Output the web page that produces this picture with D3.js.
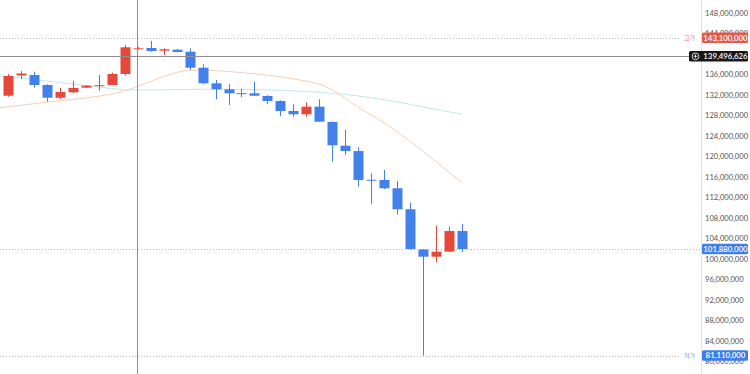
<!DOCTYPE html>
<html lang="ko">
  <head>
    <meta charset="UTF-8" />
    <title>Candle Chart</title>
    <style>
      body { margin: 0; background: #fff; }
      svg { display: block; font-family: Lato, "Noto Sans CJK KR", sans-serif; }
    </style>
  </head>
  <body>
    <div id="chart"></div>

    <script src="https://d3js.org/d3.v7.min.js"></script>

    <script>

    // prices in millions of won, one candle per index
    var opens  = [131.8, 135.75, 135.84, 133.89, 131.41, 132.47, 133.37, 133.82, 133.89, 136.04, 141.0, 141.11,
                  140.59, 140.78, 140.39, 137.27, 134.22, 133.05, 132.3, 132.27, 131.75, 130.77, 128.82, 128.18,
                  129.66, 126.67, 122.05, 121.0, 115.4, 115.36, 113.74, 109.64, 101.8, 100.39, 101.37, 105.4];
    var highs  = [136.0, 136.6, 136.49, 134.03, 133.37, 134.67, 133.9, 135.84, 136.29, 141.7, 141.3, 142.5,
                  141.05, 140.92, 141.05, 137.93, 134.87, 134.09, 133.1, 134.54, 131.9, 130.9, 130.13, 130.52,
                  131.1, 126.8, 125.11, 121.74, 116.66, 117.31, 115.16, 110.93, 101.89, 106.44, 106.24, 106.77];
    var lows   = [131.6, 135.06, 133.37, 130.63, 131.16, 132.27, 133.3, 132.78, 133.8, 135.7, 140.9, 140.39,
                  139.75, 140.27, 136.82, 134.03, 131.1, 129.99, 131.5, 131.75, 130.13, 127.84, 127.7, 127.7,
                  126.7, 118.93, 120.23, 114.05, 110.67, 113.6, 108.66, 101.8, 81.11, 99.3, 101.3, 101.25];
    var closes = [135.65, 136.14, 133.89, 131.41, 132.53, 133.31, 133.76, 133.85, 136.04, 141.25, 141.05, 140.53,
                  140.86, 140.33, 137.27, 134.22, 133.05, 132.27, 132.26, 131.8, 130.77, 128.82, 128.18, 129.66,
                  126.73, 122.13, 121.0, 115.36, 115.36, 113.74, 109.64, 101.88, 100.39, 101.37, 105.4, 101.88];

    // moving averages, first value belongs to the candle just off the left edge (index -1)
    var maShort = [129.40, 129.64, 129.93, 130.24, 130.54, 130.81, 131.06, 131.36, 131.71, 132.14, 132.72, 133.60,
                   134.58, 135.55, 136.33, 136.76, 136.82, 136.70, 136.53, 136.31, 136.08, 135.80, 135.49, 135.10,
                   134.63, 134.05, 132.92, 131.26, 129.50, 128.04, 126.48, 124.72, 122.87, 120.92, 118.87, 116.82, 114.83];
    var maLong  = [135.75, 135.55, 135.26, 134.97, 134.67, 134.38, 134.09, 133.80, 133.50, 133.21, 132.96, 132.92,
                   132.92, 132.96, 133.00, 133.03, 133.05, 133.05, 133.05, 133.03, 133.00, 132.94, 132.86, 132.76,
                   132.62, 132.47, 132.27, 132.04, 131.75, 131.40, 131.00, 130.58, 130.11, 129.62, 129.13, 128.66, 128.23];

    // 140,000,000 sits fully under the crosshair badge, so it is not listed
    var yTicks = [80, 84, 88, 92, 96, 100, 104, 108, 112, 116, 120, 124, 128, 132, 136, 144, 148];

    var highPrice = 143100000;
    var lowPrice = 81110000;
    var lastPrice = 101880000;
    var crossPrice = 139496626;
    var crossIndex = 10;

    var w = 750;
    var h = 374;
    var axisX = 701;

    var red = "#e6493b";
    var blue = "#4280ea";

    var fmt = d3.format(",");

    var svg = d3.select("#chart")
                .append("svg")
                .attr("width", w)
                .attr("height", h);

    var xScale = d3.scaleLinear()
                   .domain([0, opens.length - 1])
                   .range([7.7, 462.3]);

    var yScale = d3.scaleLinear()
                   .domain([80, 148])
                   .range([361.2, 12.7]);

    svg.append("clipPath")
       .attr("id", "plot")
       .append("rect")
       .attr("width", axisX)
       .attr("height", h);

    var plot = svg.append("g").attr("clip-path", "url(#plot)");

    // dotted reference lines for high / low / last price
    function dotted(price, x2) {
      plot.append("line")
          .attr("x1", 0).attr("x2", x2)
          .attr("y1", Math.round(yScale(price / 1e6)) + 0.5)
          .attr("y2", Math.round(yScale(price / 1e6)) + 0.5)
          .attr("stroke", "#bbb")
          .attr("stroke-dasharray", "1,2");
    }
    dotted(highPrice, 680);
    dotted(lowPrice, 680);
    dotted(lastPrice, axisX);

    // moving averages
    var line = d3.line()
                 .x(function(d, i) { return xScale(i - 1); })
                 .y(function(d) { return yScale(d); })
                 .curve(d3.curveMonotoneX);

    plot.append("path")
        .attr("d", line(maLong))
        .attr("fill", "none")
        .attr("stroke", "#c3e8e7")
        .attr("stroke-width", 1);

    plot.append("path")
        .attr("d", line(maShort))
        .attr("fill", "none")
        .attr("stroke", "#f5d0b4")
        .attr("stroke-width", 1);

    // candles
    var idx = d3.range(opens.length);

    var candles = plot.selectAll(".candle")
                      .data(idx)
                      .enter()
                      .append("g")
                      .attr("class", "candle");

    function color(i) { return closes[i] >= opens[i] ? red : blue; }

    candles.append("line")
           .attr("x1", function(i) { return Math.round(xScale(i)) + 0.5; })
           .attr("x2", function(i) { return Math.round(xScale(i)) + 0.5; })
           .attr("y1", function(i) { return yScale(highs[i]); })
           .attr("y2", function(i) { return yScale(lows[i]); })
           .attr("stroke", color);

    candles.append("rect")
           .attr("x", function(i) { return Math.round(xScale(i)) - 4.5; })
           .attr("width", 10)
           .attr("y", function(i) { return yScale(Math.max(opens[i], closes[i])); })
           .attr("height", function(i) {
             return Math.max(1, yScale(Math.min(opens[i], closes[i])) - yScale(Math.max(opens[i], closes[i])));
           })
           .attr("fill", color);

    // crosshair
    svg.append("line")
       .attr("x1", Math.round(xScale(crossIndex)) - 0.5)
       .attr("x2", Math.round(xScale(crossIndex)) - 0.5)
       .attr("y1", 0).attr("y2", h)
       .attr("stroke", "#8f8f8f");

    svg.append("line")
       .attr("x1", 0).attr("x2", 690)
       .attr("y1", Math.round(yScale(crossPrice / 1e6)) + 0.5)
       .attr("y2", Math.round(yScale(crossPrice / 1e6)) + 0.5)
       .attr("stroke", "#8f8f8f");

    // right price axis
    svg.append("line")
       .attr("x1", axisX + 0.5).attr("x2", axisX + 0.5)
       .attr("y1", 0).attr("y2", h)
       .attr("stroke", "#e2e2e2");

    var yAxis = d3.axisRight()
                  .scale(yScale)
                  .tickValues(yTicks)
                  .tickSize(0)
                  .tickPadding(4)
                  .tickFormat(function(d) { return fmt(d * 1e6); });

    svg.append("g")
       .attr("class", "y-axis")
       .attr("transform", "translate(" + axisX + ",0)")
       .call(yAxis)
       .call(function(g) { g.select(".domain").remove(); })
       .selectAll("text")
       .attr("font-size", 7.6)
       .attr("font-family", "Lato, sans-serif")
       .attr("fill", "#555");

    // price badges
    function badge(price, fill, x0) {
      var cy = yScale(price / 1e6);
      svg.append("rect")
         .attr("x", x0).attr("y", cy - 5.2)
         .attr("width", 750 - x0 - 2).attr("height", 10.4)
         .attr("rx", 1.5)
         .attr("fill", fill);
      svg.append("text")
         .attr("x", 725.5).attr("y", cy)
         .attr("dy", "0.35em")
         .attr("text-anchor", "middle")
         .attr("font-size", 7.8)
         .attr("font-weight", 600)
         .attr("fill", "#fff")
         .text(fmt(price));
    }
    badge(highPrice, "#e4584a", 702);
    badge(lastPrice, "#3f7de9", 702);
    badge(lowPrice, "#3f7de9", 702);
    badge(crossPrice, "#161616", 689);

    // plus icon on the crosshair badge
    var cyCross = yScale(crossPrice / 1e6);
    svg.append("circle")
       .attr("cx", 695.5).attr("cy", cyCross)
       .attr("r", 3.4)
       .attr("fill", "none")
       .attr("stroke", "#fff")
       .attr("stroke-width", 0.8);
    svg.append("path")
       .attr("d", "M693.6," + cyCross + "H697.4M695.5," + (cyCross - 1.9) + "V" + (cyCross + 1.9))
       .attr("stroke", "#fff")
       .attr("stroke-width", 0.8);

    // high / low captions
    svg.append("text")
       .attr("x", 695).attr("y", yScale(highPrice / 1e6))
       .attr("dy", "0.35em")
       .attr("text-anchor", "end")
       .attr("font-size", 6)
       .attr("font-family", "'Noto Sans CJK KR', sans-serif")
       .attr("fill", "#e4786c")
       .text("고가");

    svg.append("text")
       .attr("x", 695).attr("y", yScale(lowPrice / 1e6))
       .attr("dy", "0.35em")
       .attr("text-anchor", "end")
       .attr("font-size", 6)
       .attr("font-family", "'Noto Sans CJK KR', sans-serif")
       .attr("fill", "#6e98e8")
       .text("저가");

    </script>
  </body>
</html>
